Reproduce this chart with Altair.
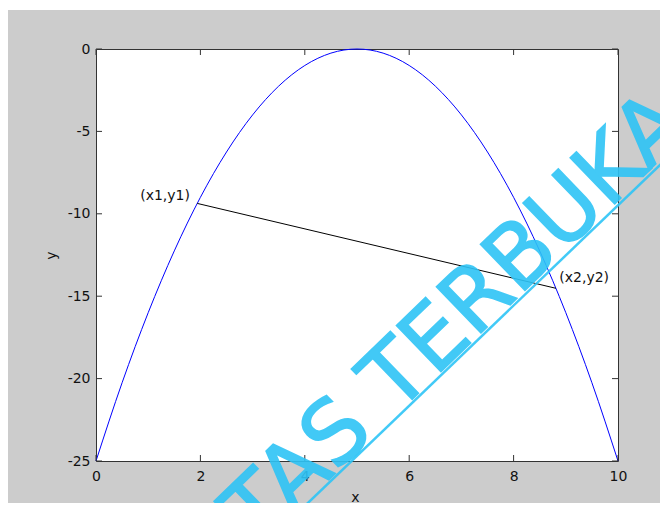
import altair as alt
import pandas as pd

# ---- data ----
curve_x = [0, 0.5, 1, 1.5, 2, 2.5, 3, 3.5, 4, 4.5, 5, 5.5, 6, 6.5, 7, 7.5, 8, 8.5, 9, 9.5, 10]
curve_y = [-25, -20.25, -16, -12.25, -9, -6.25, -4, -2.25, -1, -0.25, 0,
           -0.25, -1, -2.25, -4, -6.25, -9, -12.25, -16, -20.25, -25]

chord_x = [1.94, 8.81]
chord_y = [-9.37, -14.52]

label_text = ["(x1,y1)", "(x2,y2)"]
label_x = [1.80, 8.875]
label_y = [-8.92, -13.88]
label_align = ["right", "left"]

x_ticks = [0, 2, 4, 6, 8, 10]
y_ticks = [-25, -20, -15, -10, -5, 0]

title_text = "grafik fungsi concave"
x_title = "x"
y_title = "y"
watermark_a = "UNIVERSITAS"
watermark_b = "TERBUKA"

W, H = 522, 412
FONT = "DejaVu Sans"
FS = 14

curve_df = pd.DataFrame({"x": curve_x, "y": curve_y})
chord_df = pd.DataFrame({"x": chord_x, "y": chord_y})
lab_df = pd.DataFrame({"t": label_text, "x": label_x, "y": label_y, "a": label_align})
xt_df = pd.DataFrame({"v": x_ticks})
yt_df = pd.DataFrame({"v": y_ticks})
one = pd.DataFrame({"k": [0]})

xscale = alt.Scale(domain=[0, 10], nice=False, zero=False)
yscale = alt.Scale(domain=[-25, 0], nice=False, zero=False)

xaxis = alt.Axis(values=x_ticks, domain=False, ticks=False, tickSize=0, grid=False,
                 labelPadding=8, title=x_title, titleX=259, titleY=29,
                 titleFontWeight="normal", labelFlush=False, labelExpr="'' + datum.value")
yaxis = alt.Axis(values=y_ticks, domain=False, ticks=False, tickSize=0, grid=False,
                 labelPadding=6, title=y_title, titleX=-38, titleY=206,
                 titleFontWeight="normal", labelFlush=False, labelExpr="'' + datum.value")

curve = alt.Chart(curve_df).mark_line(color="#0000ff", strokeWidth=1, interpolate="monotone").encode(
    x=alt.X("x:Q", scale=xscale, axis=xaxis),
    y=alt.Y("y:Q", scale=yscale, axis=yaxis),
)

chord = alt.Chart(chord_df).mark_line(color="#000000", strokeWidth=1).encode(
    x=alt.X("x:Q", scale=xscale),
    y=alt.Y("y:Q", scale=yscale),
)

lab_left = alt.Chart(lab_df).transform_filter(alt.datum.a == "right").mark_text(
    align="right", baseline="middle", font=FONT, fontSize=FS, color="#111"
).encode(x=alt.X("x:Q", scale=xscale), y=alt.Y("y:Q", scale=yscale), text="t:N")

lab_right = alt.Chart(lab_df).transform_filter(alt.datum.a == "left").mark_text(
    align="left", baseline="middle", font=FONT, fontSize=FS, color="#111"
).encode(x=alt.X("x:Q", scale=xscale), y=alt.Y("y:Q", scale=yscale), text="t:N")

TICK = 6
TC = "#333333"
left_ticks = alt.Chart(yt_df).mark_rule(color=TC, strokeWidth=1).encode(
    y=alt.Y("v:Q", scale=yscale), x=alt.value(0), x2=alt.value(TICK))
right_ticks = alt.Chart(yt_df).mark_rule(color=TC, strokeWidth=1).encode(
    y=alt.Y("v:Q", scale=yscale), x=alt.value(W - TICK), x2=alt.value(W))
top_ticks = alt.Chart(xt_df).mark_rule(color=TC, strokeWidth=1).encode(
    x=alt.X("v:Q", scale=xscale), y=alt.value(0), y2=alt.value(TICK))
bottom_ticks = alt.Chart(xt_df).mark_rule(color=TC, strokeWidth=1).encode(
    x=alt.X("v:Q", scale=xscale), y=alt.value(H - TICK), y2=alt.value(H))

# white strip at top of page (figure starts slightly lower)
strip = alt.Chart(one).mark_rect(color="white").encode(
    x=alt.value(-100), x2=alt.value(700), y=alt.value(-41), y2=alt.value(-39))

WM = "#2ec4f6"
wm1 = alt.Chart(one).mark_text(angle=316, align="left", baseline="alphabetic",
                               font="DejaVu Sans", fontSize=88,
                               color=WM, stroke=WM, strokeWidth=1.5, opacity=0.9).encode(
    x=alt.value(300), y=alt.value(366), text=alt.value(watermark_b))
wm2 = alt.Chart(one).mark_text(angle=316, align="right", baseline="alphabetic",
                               font="DejaVu Sans", fontSize=88,
                               color=WM, stroke=WM, strokeWidth=1.5, opacity=0.9).encode(
    x=alt.value(280), y=alt.value(385), text=alt.value(watermark_a))
wm_line = alt.Chart(one).mark_rule(color=WM, strokeWidth=2.5, opacity=0.9).encode(
    x=alt.value(190), y=alt.value(475), x2=alt.value(590), y2=alt.value(91))

chart = alt.layer(
    curve, chord, lab_left, lab_right,
    left_ticks, right_ticks, top_ticks, bottom_ticks,
    wm1, wm2, wm_line, strip,
).properties(
    width=W, height=H,
    title=alt.TitleParams(title_text, font=FONT, fontSize=FS, fontWeight="normal",
                          color="#111", frame="group", offset=13, anchor="middle"),
    background="#cccccc",
    padding={"left": 88, "top": 41, "right": 42, "bottom": 42},
    autosize=alt.AutoSizeParams(type="none"),
).configure_view(
    stroke="#333333", strokeWidth=1, fill="white"
).configure_axis(
    labelFont=FONT, labelFontSize=FS, labelColor="#111",
    titleFont=FONT, titleFontSize=FS, titleColor="#111",
)

chart.save("out.html", embed_options={"renderer": "svg", "actions": False})
